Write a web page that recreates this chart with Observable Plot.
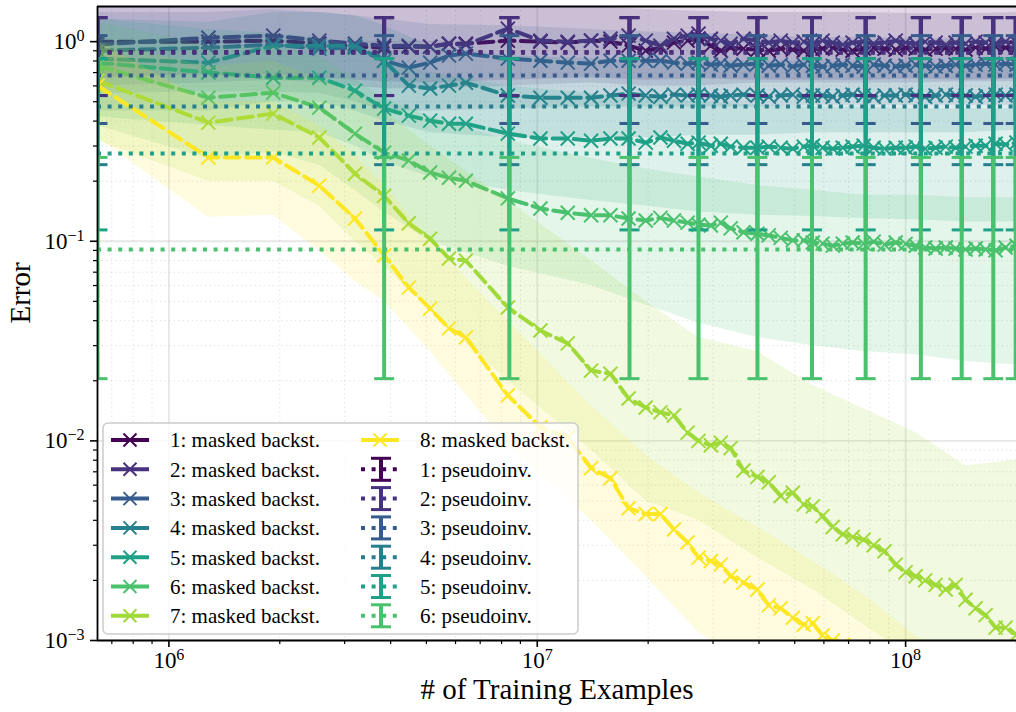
<!DOCTYPE html>
<html><head><meta charset="utf-8">
<script src="https://cdn.jsdelivr.net/npm/d3@7"></script>
<script src="https://cdn.jsdelivr.net/npm/@observablehq/plot@0.6"></script>
<style>body{margin:0;background:#fff}svg{display:block}</style>
</head><body><div id="chart"></div>
<script>
// ---- data ----
// x: training examples, in millions
const xM = [0.64,1.28,1.92,2.56,3.2,3.84,4.48,5.12,5.76,6.4,8.32,10.2,12.1,14.0,15.8,17.7,19.7,21.6,23.5,25.6,27.4,29.6,31.5,33.5,36.3,39.6,42.5,45.8,49.4,52.9,56.0,59.5,63.4,67.5,71.8,76.9,81.9,87.7,94.0,100,106.5,113,120.6,128.5,136.7,145.5,154.9,164.9,175.5,186.8,200];

const mb1 = [1.0,1.0,1.012,0.977,0.944,0.933,0.944,0.944,0.977,0.977,1.012,1.0,0.989,1.012,1.0,0.955,0.901,0.933,0.989,1.012,1.035,0.955,0.901,0.933,0.923,0.912,0.901,0.923,0.912,0.901,0.912,0.923,0.933,0.912,0.901,0.923,0.933,0.923,0.912,0.933,0.923,0.912,0.923,0.933,0.923,0.912,0.933,0.923,0.944,0.933,0.933];
const mb2 = [0.966,1.047,1.072,1.012,0.977,0.955,0.955,0.944,0.977,0.966,1.162,1.012,1.0,1.012,1.035,1.072,1.012,0.955,1.035,1.072,1.097,1.035,1.012,0.977,1.035,1.012,0.989,1.012,0.989,1.0,0.977,1.012,0.989,0.966,0.989,1.0,0.977,0.989,1.012,0.989,0.977,1.0,0.989,0.966,0.989,0.977,1.0,0.989,0.977,1.0,0.989];
const mb3 = [0.901,0.933,0.966,0.923,0.933,0.803,0.741,0.785,0.851,0.871,0.822,0.803,0.785,0.776,0.803,0.803,0.803,0.803,0.785,0.776,0.785,0.767,0.776,0.758,0.767,0.776,0.758,0.767,0.750,0.767,0.758,0.750,0.758,0.767,0.758,0.750,0.767,0.758,0.750,0.758,0.767,0.758,0.750,0.758,0.767,0.758,0.767,0.776,0.767,0.776,0.767];
const mb4 = [0.822,0.785,0.955,0.955,0.955,0.803,0.602,0.582,0.602,0.623,0.537,0.524,0.524,0.524,0.537,0.549,0.537,0.530,0.543,0.537,0.543,0.537,0.530,0.537,0.543,0.537,0.530,0.537,0.543,0.530,0.537,0.537,0.530,0.537,0.543,0.537,0.530,0.537,0.537,0.543,0.537,0.530,0.537,0.543,0.537,0.537,0.530,0.537,0.543,0.537,0.543];
const mb5 = [0.785,0.700,0.660,0.660,0.568,0.462,0.426,0.402,0.388,0.388,0.346,0.327,0.327,0.319,0.327,0.327,0.312,0.331,0.319,0.308,0.312,0.301,0.308,0.298,0.294,0.294,0.298,0.294,0.291,0.298,0.301,0.294,0.291,0.294,0.298,0.301,0.294,0.291,0.294,0.294,0.298,0.291,0.294,0.298,0.294,0.298,0.301,0.301,0.308,0.305,0.312];
const mb6 = [0.758,0.524,0.555,0.467,0.346,0.278,0.254,0.221,0.208,0.201,0.164,0.146,0.139,0.135,0.135,0.130,0.127,0.131,0.127,0.124,0.121,0.120,0.124,0.116,0.111,0.109,0.107,0.104,0.101,0.101,0.0985,0.0973,0.0951,0.0973,0.0985,0.0973,0.0996,0.0962,0.0985,0.097,0.095,0.093,0.092,0.093,0.092,0.091,0.092,0.091,0.090,0.093,0.095];
const mb7 = [0.638,0.393,0.436,0.331,0.218,0.169,0.123,0.103,0.082,0.080,0.0466,0.0357,0.0308,0.0225,0.0217,0.0163,0.0147,0.0139,0.0134,0.0110,0.0100,0.0095,0.0098,0.0092,0.0071,0.0066,0.0062,0.0053,0.0055,0.0048,0.0047,0.0042,0.0037,0.0034,0.0033,0.0032,0.0030,0.0028,0.0024,0.0022,0.0021,0.0020,0.0019,0.0018,0.0019,0.0016,0.00145,0.00134,0.00116,0.00116,0.00107];
const mb8 = [0.602,0.263,0.263,0.190,0.130,0.085,0.0586,0.046,0.0366,0.033,0.0169,0.0117,0.0104,0.0073,0.0065,0.0046,0.0043,0.0043,0.0036,0.0031,0.0026,0.0025,0.0024,0.0021,0.00195,0.0018,0.0015,0.00145,0.0013,0.0012,0.00122,0.00106,0.00100,0.00095,0.00088,0.00082,0.00078,0.00072,0.00068,0.00063,0.0006,0.00056,0.00053,0.0005,0.00047,0.00045,0.00042,0.0004,0.00038,0.00036,0.00034];

// spread bands (coarser x grid)
const bandX = [0.64,1.28,1.92,2.56,3.2,3.84,5.12,8.32,14.0,19.7,27.4,39.6,56.0,76.9,106.5,145.5,200];
const lo1 = [0.66,0.68,0.68,0.66,0.64,0.63,0.62,0.64,0.66,0.64,0.65,0.64,0.64,0.64,0.65,0.64,0.65];
const hi1 = [1.7,1.7,1.7,1.7,1.68,1.66,1.65,1.65,1.62,1.6,1.58,1.56,1.55,1.55,1.55,1.55,1.55];
const lo2 = [0.6,0.62,0.64,0.62,0.6,0.58,0.58,0.6,0.62,0.6,0.6,0.62,0.62,0.62,0.62,0.63,0.63];
const hi2 = [1.6,1.62,1.65,1.6,1.55,1.52,1.5,1.55,1.5,1.45,1.42,1.4,1.4,1.4,1.38,1.38,1.4];
const lo3 = [0.55,0.56,0.56,0.55,0.5,0.45,0.45,0.46,0.47,0.47,0.47,0.47,0.48,0.48,0.48,0.48,0.48];
const hi3 = [1.4,1.4,1.45,1.4,1.35,1.3,1.22,1.2,1.15,1.12,1.1,1.08,1.05,1.05,1.04,1.04,1.04];
const lo4 = [0.45,0.45,0.5,0.5,0.45,0.4,0.35,0.33,0.33,0.33,0.34,0.34,0.35,0.35,0.35,0.35,0.36];
const hi4 = [1.3,1.25,1.4,1.4,1.35,1.2,0.95,0.85,0.82,0.8,0.8,0.8,0.79,0.79,0.78,0.78,0.78];
const lo5 = [0.42,0.38,0.36,0.35,0.3,0.25,0.21,0.18,0.16,0.15,0.14,0.135,0.133,0.13,0.128,0.125,0.125];
const hi5 = [1.3,1.15,1.1,1.05,0.95,0.8,0.7,0.6,0.55,0.52,0.5,0.48,0.47,0.47,0.46,0.46,0.46];
const lo6 = [0.38,0.26,0.28,0.24,0.18,0.14,0.1,0.075,0.06,0.048,0.039,0.033,0.03,0.028,0.027,0.025,0.024];
const hi6 = [1.25,0.95,0.95,0.85,0.65,0.52,0.42,0.32,0.26,0.23,0.21,0.19,0.18,0.17,0.17,0.165,0.165];
const lo7 = [0.32,0.2,0.2,0.15,0.1,0.075,0.045,0.02,0.009,0.005,0.004,0.0026,0.0018,0.0012,0.0008,0.0006,0.0004];
const hi7 = [1.0,0.75,0.8,0.65,0.55,0.45,0.3,0.16,0.08,0.05,0.033,0.028,0.019,0.0145,0.011,0.0075,0.008];
const lo8 = [0.33,0.132,0.135,0.09,0.063,0.05,0.028,0.0095,0.004,0.0021,0.0011,0.0007,0.0005,0.00035,0.00025,0.0002,0.00015];
const hi8 = [1.0,0.5,0.5,0.38,0.27,0.19,0.1,0.04,0.015,0.0085,0.0055,0.0037,0.0025,0.0017,0.00105,0.0008,0.0006];

// pseudoinverse baselines: mean and error-bar extent
const piMean = [0.885,0.88,0.676,0.473,0.275,0.0909];
const piLo   = [0.537,0.537,0.389,0.242,0.114,0.0205];
const piHi   = [1.319,1.319,1.072,0.822,0.822,0.263];
const errX = [0.64,3.84,8.4,17.8,27.4,39.6,55.7,77.9,110,142,173,199];

const colors = ["#440154","#46327e","#365c8d","#277f8e","#1fa187","#4ac16d","#a0da39","#fde725"];
const mbLabels = ["1: masked backst.","2: masked backst.","3: masked backst.","4: masked backst.","5: masked backst.","6: masked backst.","7: masked backst.","8: masked backst."];
const piLabels = ["1: pseudoinv.","2: pseudoinv.","3: pseudoinv.","4: pseudoinv.","5: pseudoinv.","6: pseudoinv."];

const majorX = [1,10,100];
const minorX = [0.7,0.8,0.9,2,3,4,5,6,7,8,9,20,30,40,50,60,70,80,90,200];
const majorY = [0.001,0.01,0.1,1];
const minorY = [0.002,0.003,0.004,0.005,0.006,0.007,0.008,0.009,0.02,0.03,0.04,0.05,0.06,0.07,0.08,0.09,0.2,0.3,0.4,0.5,0.6,0.7,0.8,0.9];

// ---- build ----
const FONT = "'Liberation Serif', 'Times New Roman', serif";
const mbs = [mb1,mb2,mb3,mb4,mb5,mb6,mb7,mb8];
const los = [lo1,lo2,lo3,lo4,lo5,lo6,lo7,lo8];
const his = [hi1,hi2,hi3,hi4,hi5,hi6,hi7,hi8];

const xSym = {draw(ctx, size){const r=Math.sqrt(size/Math.PI);ctx.moveTo(-r,-r);ctx.lineTo(r,r);ctx.moveTo(-r,r);ctx.lineTo(r,-r);}};
const capSym = {draw(ctx, size){const r=Math.sqrt(size/Math.PI);ctx.moveTo(-r,0);ctx.lineTo(r,0);}};

const marks = [
  Plot.gridX({ticks: minorX, stroke:"#b0b0b0", strokeOpacity:0.35, strokeWidth:1, strokeDasharray:"1.5,3"}),
  Plot.gridY({ticks: minorY, stroke:"#b0b0b0", strokeOpacity:0.35, strokeWidth:1, strokeDasharray:"1.5,3"}),
  Plot.gridX({ticks: majorX, stroke:"#b0b0b0", strokeOpacity:0.3, strokeWidth:1.8}),
  Plot.gridY({ticks: majorY, stroke:"#b0b0b0", strokeOpacity:0.3, strokeWidth:1.8}),
];
for (let s = 0; s < 8; s++) {
  const band = bandX.map((x,i)=>({x, lo: los[s][i], hi: his[s][i]}));
  const rows = xM.map((x,i)=>({x, y: mbs[s][i]}));
  marks.push(Plot.areaY(band, {x:"x", y1:"lo", y2:"hi", fill: colors[s], fillOpacity: 0.15, clip: true}));
  marks.push(Plot.line(rows, {x:"x", y:"y", stroke: colors[s], strokeWidth: 4, strokeDasharray: "14.8,6.4", clip: true}));
  marks.push(Plot.dot(rows, {x:"x", y:"y", symbol: xSym, r: 7, stroke: colors[s], fill: "none", strokeWidth: 2, clip: true}));
}
for (let p = 0; p < 6; p++) {
  const er = errX.map(x=>({x, lo: piLo[p], hi: piHi[p]}));
  marks.push(Plot.ruleY([piMean[p]], {stroke: colors[p], strokeWidth: 4, strokeDasharray: "4,6.6"}));
  marks.push(Plot.ruleX(er, {x:"x", y1:"lo", y2:"hi", stroke: colors[p], strokeWidth: 4, clip: true}));
  marks.push(Plot.dot(er, {x:"x", y:"lo", symbol: capSym, r: 10, stroke: colors[p], fill:"none", strokeWidth: 3, clip: true}));
  marks.push(Plot.dot(er, {x:"x", y:"hi", symbol: capSym, r: 10, stroke: colors[p], fill:"none", strokeWidth: 3, clip: true}));
}
// spines
marks.push(Plot.ruleY([0.001], {stroke:"black", strokeWidth:1.8}));
marks.push(Plot.ruleY([1.5], {stroke:"black", strokeWidth:1.8}));
marks.push(Plot.ruleX([0.64], {stroke:"black", strokeWidth:1.8}));
// axes
marks.push(Plot.axisX({ticks: majorX, tickSize: 7, tickPadding: 4, strokeWidth: 1.6, fontSize: 23, tickFormat: d => "10^" + (Math.round(Math.log10(d)) + 6), label: null}));
marks.push(Plot.axisX({ticks: minorX, tickSize: 4, strokeWidth: 1.2, tickFormat: () => "", label: null}));
marks.push(Plot.axisY({ticks: majorY, tickSize: 7, tickPadding: 6, strokeWidth: 1.6, fontSize: 23, tickFormat: d => "10^" + Math.round(Math.log10(d)), label: null}));
marks.push(Plot.axisY({ticks: minorY, tickSize: 4, strokeWidth: 1.2, tickFormat: () => "", label: null}));
marks.push(Plot.text(["# of Training Examples"], {frameAnchor: "bottom", dy: 58, fontSize: 29, text: d => d, fill: "black"}));
marks.push(Plot.text(["Error"], {frameAnchor: "left", dx: -77, rotate: -90, fontSize: 29, text: d => d, fill: "black"}));

const svg = Plot.plot({
  width: 1016, height: 712,
  marginLeft: 97, marginRight: 0, marginTop: 6, marginBottom: 72,
  style: {fontFamily: FONT, background: "white", color: "black"},
  x: {type: "log", domain: [0.64, 200]},
  y: {type: "log", domain: [0.001, 1.5]},
  marks
});

// superscripts for power-of-ten labels
d3.select(svg).selectAll("text").each(function(){
  const m = /^10\^(-?\d+)$/.exec(this.textContent);
  if (m) {
    const sel = d3.select(this);
    sel.text(null);
    sel.append("tspan").text("10");
    sel.append("tspan").attr("dy", "-0.5em").attr("font-size", "0.7em").text(m[1].replace("-", "\u2212"));
  }
});

// legend
const lg = d3.select(svg).append("g");
lg.append("rect").attr("x", 103).attr("y", 423).attr("width", 475).attr("height", 211).attr("rx", 5)
  .attr("fill", "white").attr("fill-opacity", 0.8).attr("stroke", "#cccccc").attr("stroke-width", 1.5);
const entries = [];
for (let s = 0; s < 7; s++) entries.push({col: 0, row: s, kind: "mb", c: colors[s], label: mbLabels[s]});
entries.push({col: 1, row: 0, kind: "mb", c: colors[7], label: mbLabels[7]});
for (let p = 0; p < 6; p++) entries.push({col: 1, row: p + 1, kind: "pi", c: colors[p], label: piLabels[p]});
for (const e of entries) {
  const cy = 440 + e.row * 29.3;
  const x0 = e.col === 0 ? 111 : 361;
  const g = lg.append("g");
  if (e.kind === "mb") {
    g.append("line").attr("x1", x0).attr("x2", x0 + 38).attr("y1", cy).attr("y2", cy).attr("stroke", e.c).attr("stroke-width", 4);
    const cx = x0 + 19, r = 6.5;
    g.append("path").attr("d", `M${cx-r},${cy-r}L${cx+r},${cy+r}M${cx-r},${cy+r}L${cx+r},${cy-r}`).attr("stroke", e.c).attr("stroke-width", 2).attr("fill", "none");
  } else {
    g.append("line").attr("x1", x0).attr("x2", x0 + 38).attr("y1", cy).attr("y2", cy).attr("stroke", e.c).attr("stroke-width", 4).attr("stroke-dasharray", "4,6.6");
    const cx = x0 + 20;
    g.append("line").attr("x1", cx).attr("x2", cx).attr("y1", cy - 11).attr("y2", cy + 11).attr("stroke", e.c).attr("stroke-width", 4);
    g.append("line").attr("x1", cx - 10).attr("x2", cx + 10).attr("y1", cy - 11).attr("y2", cy - 11).attr("stroke", e.c).attr("stroke-width", 3);
    g.append("line").attr("x1", cx - 10).attr("x2", cx + 10).attr("y1", cy + 11).attr("y2", cy + 11).attr("stroke", e.c).attr("stroke-width", 3);
  }
  g.append("text").attr("x", e.col === 0 ? 170 : 420).attr("y", cy).attr("dy", "0.35em")
    .attr("text-anchor", "start")
    .style("font-family", FONT).style("font-size", "21px").style("fill", "#000")
    .text(e.label);
}

document.getElementById("chart").appendChild(svg);
</script></body></html>
